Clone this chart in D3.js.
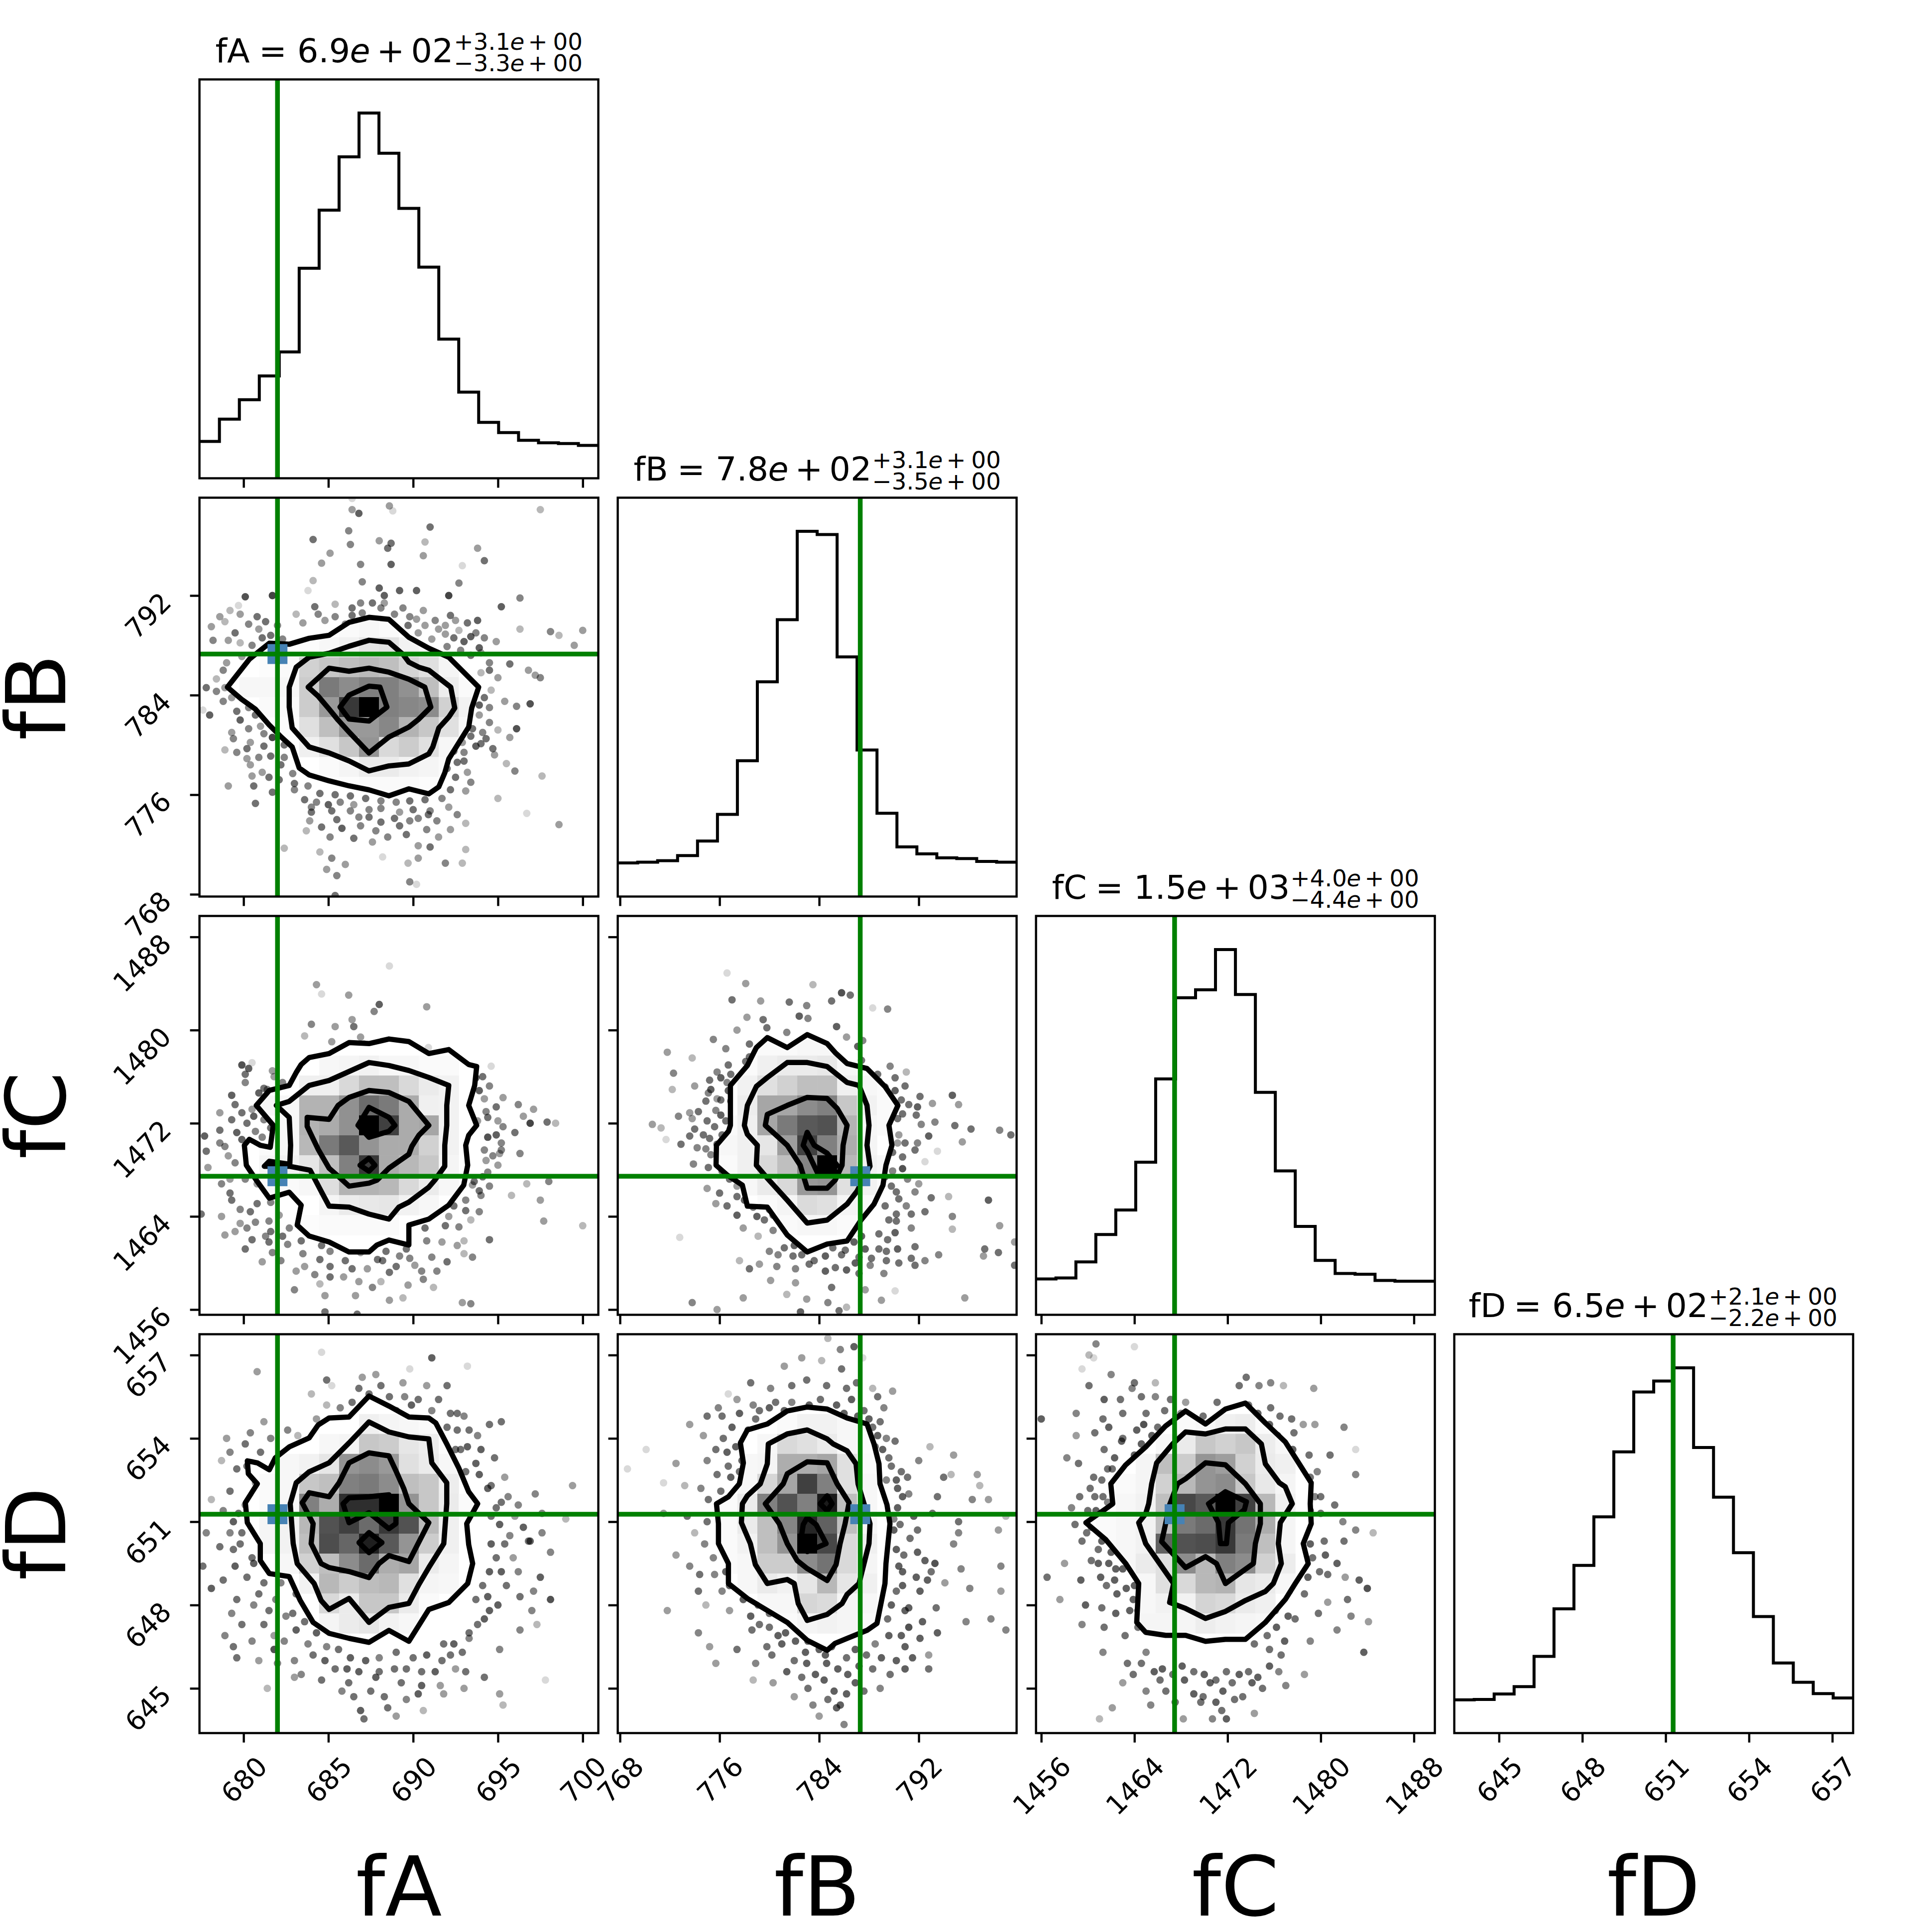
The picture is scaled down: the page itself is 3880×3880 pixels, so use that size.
<!DOCTYPE html>
<html>
<head>
<meta charset="utf-8">
<script src="https://cdn.jsdelivr.net/npm/d3@7"></script>
<style>
  body { margin: 0; background: #fff; }
  text { font-family: "DejaVu Sans", sans-serif; fill: #000; }
</style>
</head>
<body>
<svg id="chart" width="3880" height="3880"></svg>
<script>
// parameter names, axis limits, tick values, true values
const params = ['fA', 'fB', 'fC', 'fD'];
const limits = [[677.4, 700.92], [767.82, 799.86], [1455.55, 1489.8], [643.39, 657.75]];
const ticks = [[680, 685, 690, 695, 700], [768, 776, 784, 792], [1456, 1464, 1472, 1480, 1488], [645, 648, 651, 654, 657]];
const truths = [682, 787.3, 1467.45, 651.27];

// title numbers
const medians = ['6.9', '7.8', '1.5', '6.5'];
const exponents = ['02', '02', '03', '02'];
const plusErr = ['3.1', '3.1', '4.0', '2.1'];
const minusErr = ['3.3', '3.5', '4.4', '2.2'];

// 1d histograms, 20 bins, peak scaled to 1000
const histA = [101, 162, 215, 280, 346, 575, 734, 880, 1000, 890, 739, 578, 381, 236, 153, 125, 104, 97, 95, 90];
const histB = [92, 94, 98, 112, 152, 225, 372, 588, 758, 1000, 991, 656, 401, 228, 136, 117, 106, 104, 96, 94];
const histC = [98, 101, 145, 220, 287, 418, 646, 868, 890, 1000, 877, 609, 394, 242, 149, 113, 111, 94, 92, 92];
const histD = [91, 92, 107, 127, 210, 340, 459, 592, 770, 934, 964, 1000, 782, 646, 494, 319, 192, 139, 108, 96];

// 2d density, darkness 0-100. each row: [row from top, first column, values...]
const densAB = [
  [6, 7, 2, 3, 2],
  [7, 5, 1, 3, 5, 10, 11, 5, 3, 2],
  [8, 3, 1, 2, 18, 22, 25, 27, 25, 17, 12, 4],
  [9, 2, 3, 3, 3, 20, 52, 45, 50, 50, 43, 25, 7, 2],
  [10, 3, 2, 2, 20, 40, 78, 100, 50, 47, 45, 18, 5],
  [11, 4, 1, 12, 25, 40, 40, 47, 30, 22, 12, 3],
  [12, 5, 6, 12, 22, 42, 15, 20, 12, 3],
  [13, 6, 2, 4, 8, 8, 5, 4, 2],
  [14, 6, 1, 1, 2, 2, 2, 1, 1]
];
const densAC = [
  [7, 6, 3, 4, 5, 3, 3, 2, 2],
  [8, 5, 6, 6, 15, 25, 25, 15, 8, 5],
  [9, 3, 3, 3, 30, 30, 43, 58, 52, 33, 6, 5],
  [10, 4, 3, 30, 33, 43, 100, 75, 33, 35, 5],
  [11, 3, 2, 3, 28, 52, 65, 42, 33, 33, 18, 5],
  [12, 3, 4, 5, 10, 25, 50, 78, 33, 28, 22, 4],
  [13, 3, 2, 2, 3, 13, 30, 30, 28, 15, 8, 3],
  [14, 6, 4, 8, 9, 10, 5, 3],
  [15, 5, 1, 2, 2, 2, 2]
];
const densAD = [
  [4, 8, 6, 4, 3, 2],
  [5, 6, 3, 4, 22, 20, 10, 7, 1],
  [6, 4, 3, 5, 10, 42, 45, 40, 12, 8, 3],
  [7, 3, 2, 3, 22, 25, 50, 52, 45, 25, 22, 7],
  [8, 3, 2, 3, 50, 32, 82, 82, 100, 42, 22, 8, 2],
  [9, 3, 4, 5, 28, 68, 75, 58, 78, 68, 27, 6],
  [10, 3, 4, 5, 25, 70, 60, 88, 65, 42, 20, 6],
  [11, 4, 3, 18, 25, 45, 58, 32, 35, 8, 4],
  [12, 5, 5, 28, 20, 26, 28, 12, 4, 3],
  [13, 6, 15, 8, 22, 22, 8, 2],
  [14, 6, 4, 8, 10, 5, 3]
];
const densBC = [
  [6, 7, 2, 2, 3, 3],
  [7, 6, 2, 6, 8, 8, 9, 3, 1],
  [8, 6, 5, 12, 18, 25, 25, 6, 3, 2],
  [9, 6, 7, 35, 35, 45, 50, 22, 5, 2],
  [10, 5, 2, 6, 35, 52, 65, 68, 30, 3, 2],
  [11, 5, 3, 6, 10, 38, 75, 50, 32, 4],
  [12, 5, 2, 6, 15, 25, 48, 100, 28, 5, 3],
  [13, 5, 1, 3, 8, 15, 40, 42, 12, 5, 2],
  [14, 7, 2, 4, 14, 12, 4, 2],
  [15, 8, 2, 3, 3, 2]
];
const densBD = [
  [4, 8, 2, 5, 5, 3],
  [5, 7, 3, 15, 12, 8, 3, 1],
  [6, 6, 3, 4, 32, 32, 35, 12, 2],
  [7, 6, 3, 16, 35, 75, 50, 12, 3],
  [8, 5, 2, 8, 50, 68, 50, 90, 25, 3],
  [9, 5, 2, 8, 25, 48, 85, 62, 25, 3],
  [10, 5, 2, 5, 25, 42, 100, 72, 15, 6],
  [11, 5, 2, 3, 20, 20, 45, 55, 15, 4],
  [12, 6, 3, 8, 5, 10, 28, 10, 6],
  [13, 7, 3, 3, 16, 14, 4, 3],
  [14, 8, 2, 4, 5, 4, 2]
];
const densCD = [
  [4, 7, 2, 3, 6, 7, 2],
  [5, 6, 3, 8, 22, 18, 22, 7, 3],
  [6, 5, 4, 25, 20, 42, 38, 18, 8, 6],
  [7, 4, 2, 4, 18, 28, 42, 45, 22, 9, 4],
  [8, 4, 3, 5, 25, 72, 65, 100, 75, 28, 6],
  [9, 3, 2, 3, 5, 25, 52, 58, 78, 55, 32, 4],
  [10, 3, 2, 3, 5, 62, 68, 70, 78, 52, 25, 4],
  [11, 4, 3, 8, 12, 45, 28, 50, 45, 18, 7],
  [12, 5, 3, 12, 15, 28, 30, 10, 8, 3],
  [13, 5, 3, 5, 5, 17, 15, 8, 6],
  [14, 5, 4, 4, 4, 7, 5, 4, 3]
];

// contour vertices in histogram bin coordinates [column, row from top]
const contoursAB = [
  [[1.4,9.5],[2.5,8.1],[3.5,7.3],[4.5,7.35],[5.5,7.05],[6.5,6.9],[7.5,6.25],[8.5,6],[9.5,6.1],[10.5,7],[11.5,7.55],[12.5,8],[14,9.5],[13.65,10.55],[13.5,11.5],[13,12.3],[12.5,13.1],[12.3,13.8],[12,14.5],[11.5,14.85],[10.5,14.6],[9.5,14.95],[8.5,14.65],[7.5,14.45],[6.5,14.2],[5.5,13.9],[5,13.55],[4.65,12.5],[4.1,12],[3.5,11.4],[2.8,10.6],[2.1,10.1]],
  [[4.5,9.5],[4.85,8.5],[5.5,8],[6.5,7.8],[7.5,7.45],[8.5,7.15],[9.5,7.25],[10.2,7.85],[10.5,8.25],[11,8.5],[11.5,8.65],[12.6,9.5],[12.8,10.55],[12.5,11],[12,11.55],[11.7,12.5],[11.5,12.85],[10.5,13.35],[9.5,13.45],[8.5,13.7],[7.5,13.2],[6.5,12.8],[5.5,12.5],[4.65,11.55],[4.5,10.5]],
  [[5.45,9.5],[6.5,8.55],[7.5,8.7],[8.5,8.55],[9.5,8.75],[10.5,9.1],[11.3,9.5],[11.6,10.5],[11,11.1],[10.5,11.5],[9.5,12],[8.5,12.8],[7.5,11.75],[6.95,11.15],[6.5,10.6],[5.95,9.95]],
  [[7.05,10.5],[7.5,9.9],[8.5,9.45],[9.05,9.5],[9.4,10.5],[8.5,11.2],[7.5,11.1]]
];
const contoursAC = [
  [[2.85,9.5],[3.5,8.75],[4.5,8.5],[4.85,7.85],[5.1,7.45],[5.5,7.1],[6.5,6.9],[7.5,6.35],[8.5,6.4],[9.5,6.17],[10.5,6.3],[11.5,6.9],[12.5,6.7],[13.5,7.45],[13.9,7.55],[13.8,8.5],[13.5,9.5],[13.9,10.5],[13.5,11],[13.35,11.5],[13.45,12.5],[13.25,13.5],[12.5,14.5],[11.5,15.2],[10.5,15.5],[10.5,16.5],[9.5,16.25],[8.9,16.5],[8.5,16.85],[7.5,16.85],[6.5,16.35],[5.5,16.05],[4.9,15.5],[5.1,14.5],[4.5,13.85],[3.5,14.15],[2.85,13.25],[2.35,12.5],[2.25,11.5],[2.5,11.2],[3.05,11.5],[3.55,11.6],[3.7,10.5]],
  [[3.85,9.5],[4.5,9.3],[5.5,8.5],[6.5,8.25],[7.5,7.8],[8.5,7.35],[9.5,7.5],[10.5,7.75],[11.5,8.1],[12.5,8.5],[12.4,9.5],[12.4,10.5],[12.3,11.5],[12.3,12.55],[11.8,13.25],[11.5,13.6],[10.5,14.35],[10,14.6],[9.5,15.2],[8.5,14.95],[7.5,14.6],[6.5,14.55],[6.1,13.8],[5.55,12.75],[4.5,12.55],[3.25,12.55],[3.5,12.3],[4.53,12.45],[4.57,11.5],[4.5,10.1]],
  [[5.4,10.1],[6.5,10.2],[6.95,9.5],[7.5,9.1],[8.5,8.75],[9.5,8.85],[10.5,9.3],[11.5,10.5],[11,11],[10.65,11.55],[10.5,11.95],[9.5,12.65],[8.9,13.25],[8.5,13.4],[7.5,13.55],[6.9,13],[6.5,12.65],[5.95,11.7],[5.4,10.55]],
  [[8.5,9.6],[9.5,10.1],[9.8,10.5],[9.5,10.8],[8.5,11.1],[7.95,10.5]],
  [[8.5,12.15],[8.8,12.5],[8.5,12.8],[8.05,12.5]]
];
const contoursAD = [
  [[2.4,6.35],[2.9,6.45],[3.5,6.8],[3.8,6.2],[4.5,5.65],[5.5,5.2],[5.95,4.55],[6.5,4.2],[7.5,4.15],[8.5,3.1],[9.5,3.6],[10.5,4.15],[11.5,4.2],[11.85,4.45],[12.4,5.5],[13,6.7],[13.5,7.9],[13.95,8.5],[13.4,9.5],[13.5,10.55],[13.7,11.5],[13.45,12.5],[12.5,13.45],[11.5,13.8],[10.5,15.4],[9.5,14.85],[8.5,15.45],[7.5,15.25],[6.5,15],[5.7,14.45],[5.05,13.35],[4.5,12.15],[3.5,12],[3.05,11.35],[3.05,10.5],[2.4,9.45],[2.3,8.45],[2.9,7.5],[2.45,7]],
  [[4.85,7.45],[5.5,6.9],[6.5,6.45],[7.5,5.45],[8.5,4.4],[9.5,4.9],[10.5,5.15],[11.5,5.25],[11.65,6.45],[12.4,7.45],[12.4,8.5],[12.25,10.5],[11.5,11.7],[11,12.55],[10.5,13.5],[9.5,13.7],[8.5,14.45],[7.5,13.25],[6.5,13.8],[6.1,13.35],[5.75,12.5],[4.9,11.5],[4.7,10.5],[4.55,8.5]],
  [[5.15,8.45],[5.5,7.95],[6.5,8.15],[7,7.45],[7.5,6.45],[8.5,5.95],[9.5,6.1],[9.85,6.85],[10.25,7.75],[10.5,8.5],[11.5,9.45],[10.5,11.4],[9.5,11.1],[9,11.5],[8.5,12.2],[7.5,11.9],[6.5,11.7],[6.1,11.5],[5.6,10.5],[5.7,9.5]],
  [[7.2,8.5],[7.5,8.2],[8.5,8.15],[9.5,8.05],[9.85,8.85],[9.85,9.5],[9.5,9.75],[8.5,8.95],[7.5,9.45]],
  [[8.5,9.95],[9.15,10.45],[8.5,10.95],[8,10.45]]
];
const contoursBC = [
  [[4.93,12.5],[4.95,11.5],[5.55,10.8],[5.65,10.5],[5.65,9.5],[5.65,8.5],[6.5,7.5],[6.95,6.6],[7.5,6.1],[8.5,6.6],[9.5,5.95],[10.5,6.4],[10.9,6.85],[11.5,7.4],[12.5,7.65],[13.4,8.55],[14.05,9.5],[13.6,10.5],[13.75,11.5],[13.45,12.5],[13.3,13.5],[12.85,14.45],[12.2,15.25],[11.5,16.3],[10.5,16.45],[9.5,16.85],[8.5,16],[7.5,14.6],[6.5,14.55],[6.25,13.5],[5.5,13]],
  [[6.95,8.55],[7.5,8.1],[8.5,7.35],[9.5,7.35],[10.5,7.55],[11.5,8.35],[12.1,8.5],[12.5,9.5],[12.6,10.5],[12.5,11.5],[12.65,12.55],[12,13.8],[11.5,14.45],[10.5,15.25],[9.5,15.4],[8.5,14.25],[7.5,13.15],[6.95,12.5],[7,11.5],[6.5,10.95],[6.35,10.5],[6.5,9.5]],
  [[7.5,9.95],[8.5,9.5],[9.5,9.1],[10.5,9.15],[11,9.65],[11.5,10.5],[11.3,11.5],[11.25,12.5],[10.9,13.25],[10.5,13.65],[9.5,13.65],[9.15,12.5],[8.5,11.5],[7.4,10.5]],
  [[9.5,10.85],[9.85,11.5],[10.5,11.9],[11,12.5],[10.5,12.95],[10.05,12.95],[9.5,11.8],[9.3,11.5]]
];
const contoursBD = [
  [[4.95,8.5],[5.55,8.15],[6.1,7.5],[6.3,6.45],[6.15,5.45],[6.5,4.8],[7.5,4.5],[8.5,3.85],[9.5,3.65],[10.5,3.75],[11.5,4.2],[12.5,4.5],[12.85,5.5],[13.1,6.5],[13.15,7.5],[13.5,8.55],[13.65,9.5],[13.45,11.5],[13.4,12.5],[13,14.5],[12.5,14.85],[11.5,15.25],[10.9,15.5],[10.5,15.85],[9.5,15.35],[8.5,14.45],[7.5,13.85],[6.5,13.25],[5.55,12.5],[5.55,11.5],[5.05,10.5],[5.05,9.5]],
  [[6.25,8.5],[6.5,8.1],[7.15,7.5],[7.5,6.5],[7.55,5.5],[8.5,5],[9.5,4.8],[10.5,5.25],[10.8,5.5],[11.5,5.85],[11.95,6.5],[12.05,7.5],[12.65,9.5],[12.6,10.5],[12.1,12.5],[11.5,13.05],[11.25,13.5],[10.5,14.05],[9.5,14.35],[9.05,13.5],[8.85,12.5],[8.5,12.3],[7.5,12.5],[6.9,11.55],[6.65,10.5],[6.2,9.45]],
  [[7.4,8.5],[8.3,7.5],[8.5,7],[9.5,6.4],[10.5,6.45],[11,7.5],[11.6,8.45],[11.4,9.5],[11.15,10.5],[10.95,11.55],[10.5,12.35],[9.5,11.75],[9,11.35],[8.5,10.5],[8.1,9.5]],
  [[10.5,8.1],[10.75,8.5],[10.5,8.85],[10.15,8.5]],
  [[9.5,9.2],[9.95,9.55],[10.45,10.5],[9.5,10.9],[9.15,10.55],[9.3,9.55]]
];
const contoursCD = [
  [[2.5,9.45],[3.5,8.75],[3.85,8.5],[3.75,7.5],[4.5,6.55],[5.5,5.65],[6.5,4.6],[7.5,3.85],[8.5,4.5],[9.5,3.75],[10.5,3.45],[11.5,4.45],[12.5,5.4],[13.2,6.5],[13.8,7.45],[13.75,8.5],[13.8,9.5],[13.4,10.5],[13.65,11.5],[13,12.5],[12.5,13.3],[11.5,14.45],[10.5,15.3],[9.5,15.3],[8.5,15.4],[7.5,15.1],[6.5,15.1],[5.5,14.95],[5.05,14.45],[5.15,12.5],[4.5,11.5],[3.5,10.3]],
  [[5.15,9.45],[5.5,9],[5.65,8.5],[5.8,7.5],[6.05,6.45],[6.85,5.5],[7.5,4.9],[8.5,5],[9.5,4.75],[10.5,4.75],[11.3,5.5],[11.5,6.5],[12.2,7.45],[12.5,7.65],[12.85,8.5],[12.25,9.45],[12.15,10.5],[12.3,11.5],[11.9,12.5],[11.5,12.9],[10.5,13.35],[9.5,13.9],[8.5,14.25],[7.5,13.75],[6.7,13.45],[6.9,12.5],[5.5,10.5]],
  [[6.3,10.4],[6.5,9.5],[6.7,8.55],[7.1,7.5],[7.5,7.25],[8.5,6.45],[9.5,6.55],[10.5,7.5],[11.25,8.5],[11.25,9.5],[11,10.5],[10.9,11.5],[9.5,12.5],[9.05,11.5],[8.5,11.15],[7.5,11.7]],
  [[8.65,8.5],[9.5,7.9],[10.55,8.4],[10.45,8.8],[9.65,9.45],[9.55,10.5],[9.25,10.5],[9.15,9.45]]
];

// samples outside the contours: [x, y, overlapping dots]
const pointsAB = [[686.4,799.8,1],[688.6,799.2,3],[688.8,798.8,1],[686.4,798.9,3],[686.8,798.6,6],[697.5,798.9,2],[691,797.5,5],[686.2,797.2,4],[684.1,796.5,5],[686.3,796.1,4],[688.7,796.2,5],[690.7,796.3,2],[688,796.4,3],[688.5,795.8,5],[685.1,795.4,3],[684.6,794.6,3],[688.7,794.5,6],[686.9,794.5,4],[690.6,795.2,3],[694.2,794.8,5],[693.8,795.8,3],[692.9,794.4,1],[687,793.1,4],[688,792.6,6],[688.3,792,6],[689.2,792.4,6],[690.2,792.4,6],[692.1,792,8],[692.7,793,4],[695.2,791.1,6],[696.3,791.8,4],[684.1,793.2,2],[683.8,792.4,1],[681.7,792,8],[680.1,791.9,7],[679.7,791.2,1],[685.4,791.3,2],[684.2,791.1,5],[686.4,791,5],[687,790.6,4],[688.1,791,4],[688.9,790.5,4],[690.2,790.1,3],[692.2,790.4,5],[693.8,790,6],[694.9,788.3,3],[696.3,789.3,2],[698.1,789.1,4],[700,789.2,3],[698.6,788.8,2],[699.5,788,3],[680.8,790.3,5],[678.9,789.9,2],[679.5,789,5],[678.1,789.5,3],[678.2,788.4,4],[681.6,788.8,5],[682.3,788.5,4],[683.5,789.8,3],[684.8,790,3],[686,789.7,4],[690.3,789,3],[691.5,789.3,3],[691.1,788.5,3],[692.7,789.2,2],[693.7,789,4],[693,788.3,6],[693.9,787.8,6],[692,787.9,4],[680.5,788,4],[679.9,787.1,3],[694.5,786.6,4],[695.7,786.5,5],[696.8,786,3],[697.2,785.6,3],[694,785.8,2],[694.6,784.4,2],[695.4,783.5,3],[696.1,783.1,4],[696.9,783.3,7],[697.5,785.4,4],[677.8,784.6,5],[678.4,784.3,4],[678.8,783.5,4],[677.6,782.8,1],[678,782.4,6],[679.6,782.7,5],[680.7,782.4,5],[681,781.5,3],[679.3,781,3],[679.4,780.5,4],[680.4,780.2,3],[681.7,780.6,8],[693.9,782.4,3],[694.5,781.8,4],[695,781.2,2],[695.7,780.6,3],[696.1,781.3,7],[694,780.1,5],[694.7,779.7,5],[693,779.4,4],[692.6,778.6,5],[693.2,777.8,3],[694.8,779.2,3],[695.5,778.5,2],[696,777.9,4],[697.6,777.5,2],[680.2,778.9,3],[680.4,778.4,3],[681.1,777.8,3],[682.2,778.4,5],[682.9,777.7,4],[679.1,776.7,3],[680.6,776.7,5],[681.7,776.2,5],[683,776.4,4],[680.7,775.3,5],[683.6,775.6,5],[684.3,775.4,4],[685,775.2,6],[685.7,775.4,4],[686.5,775.2,3],[687.4,774.8,4],[688.1,774.9,4],[689.2,774.6,3],[690,774.8,5],[691,774.7,4],[692.1,775,3],[684,774.6,5],[685.5,774,5],[686.8,774.2,4],[688.1,773.8,5],[689.2,773.5,5],[690.3,774.1,4],[691.4,773.9,4],[692.2,773.2,3],[693.1,773.7,2],[683.7,773.1,2],[685.1,772.6,4],[686.5,772.5,5],[687.6,772.2,3],[688.5,772.6,4],[690.3,771.9,3],[691,771.8,5],[693.1,771.6,2],[684.5,771.4,2],[685.2,770.9,4],[686,770.4,3],[688.2,771,1],[689.7,770.5,2],[690.3,770.9,3],[691.9,770.5,4],[692.9,770.5,2],[684.9,770,3],[685.5,769.5,4],[689.8,769,4],[690.2,768.8,1],[685.4,767.9,5],[695,775.7,2],[696.7,774.5,1],[698.6,773.6,3],[682.4,771.7,2]];
const moreAB = [[678.6,790.3,3],[679.2,790.8,2],[679.8,790.5,3],[680.3,789.7,4],[680.9,789.3,3],[681.3,789.9,5],[682,789.6,4],[681.1,788.6,5],[679.1,788.4,3],[679.8,788.2,2],[683.1,790.5,2],[684.4,790.5,4],[685.4,790.3,4],[686.4,790.4,5],[686.9,791.4,4],[687.6,791.4,5],[688.3,791.4,3],[689.4,791,4],[689.8,790.3,4],[690.6,790.8,3],[691.3,790,4],[691.9,789.6,3],[692.5,790,3],[693.2,789.8,5],[689.7,789.6,5],[690.7,789.6,3],[691.9,788.9,3],[692.4,788.6,5],[693.4,788.7,6],[694.2,788.6,4],[692.8,787.6,4],[693.4,787.2,5],[694,787.4,3],[694.5,786,5],[695,785.4,3],[694.2,783.8,5],[694.5,783,4],[693.9,783.2,6],[693.5,781.3,5],[694.1,781,4],[693.4,780.7,5],[693.7,779.9,6],[694.3,780.5,5],[692.9,780.2,3],[692.4,779.5,5],[693,778.7,5],[692,778.1,5],[692.5,777.4,5],[693.4,777,4],[692.2,776.4,5],[693.1,776.3,3],[691.7,775.7,4],[690.7,775.6,5],[689.8,775.5,5],[689,775.4,4],[688.1,775.5,4],[687.2,775.7,5],[686.3,775.9,5],[685.4,776,5],[684.5,776.1,5],[683.8,776.7,4],[683,776.9,5],[682.1,777.2,5],[681.5,777.4,5],[680.5,777.5,3],[680.9,779,4],[681.6,779.1,5],[682.4,779,4],[680.2,779.7,5],[681.2,779.9,5],[682.4,780,5],[679.6,779.4,4],[678.9,779.6,2],[680.3,781.3,4],[681.2,780.9,4],[679.8,782,6],[680.3,783,4],[679.3,783.8,3],[678.9,784.6,3],[678.4,785.3,2],[678.8,786,4],[679,786.6,3],[684,775,4],[685.2,774.7,5],[686.3,774.7,4],[687.4,774.2,5],[688.9,774.1,5],[689.8,773.9,4],[690.9,774.4,5],[692.6,774.4,4],[683.9,773.9,3],[684.6,773.4,5],[685.8,773.3,6],[686.9,773.5,4],[687.8,773.1,4],[689.6,772.8,5],[690.8,773.2,4],[691.5,772.6,3]];
const pointsAC = [[688.6,1485.5,1],[684.3,1483.9,3],[684.6,1483.1,1],[686.2,1483,3],[688,1482.2,6],[687.7,1481.6,4],[690.8,1482,3],[686.4,1480.9,3],[685.4,1480.3,3],[686.5,1480.3,5],[684,1480.5,4],[683.6,1479.5,2],[685.2,1479,3],[686.9,1479.4,3],[687.1,1478.8,4],[688.5,1479,3],[690.9,1478.5,1],[691.6,1477.9,2],[689,1477.6,6],[691.5,1477.1,6],[680.5,1477.2,1],[681.7,1476.5,3],[681.8,1476,3],[685.5,1477.2,2],[686.6,1476.9,3],[688.6,1476.5,5],[690.6,1476.9,3],[692,1476,3],[694.6,1476.9,1],[683.7,1476.6,2],[684.2,1476.2,4],[685,1476,4],[680.1,1475.5,4],[682.3,1475.5,4],[693.4,1475.5,4],[693.9,1474.8,6],[692.2,1474.9,5],[679.3,1474.4,6],[679.5,1473.6,5],[680.5,1473.2,3],[681.9,1474.2,3],[695.3,1474.2,3],[696.2,1473.6,4],[697.1,1473.2,3],[694.3,1473,4],[693.8,1472.2,3],[695,1472.2,3],[696.5,1472.6,3],[698.4,1472,2],[679.3,1472.3,5],[680.2,1472,5],[681.2,1472.3,4],[678.6,1471.4,5],[679.6,1471.2,6],[696.9,1472,8],[697.9,1472.1,5],[694.4,1470.8,7],[695.2,1470.3,4],[696,1471.2,5],[677.7,1470.9,6],[678.6,1470.3,4],[679.9,1470.6,6],[677.8,1469.6,5],[695.1,1469.4,3],[696.3,1469.4,4],[694.2,1469.7,4],[694.3,1468.8,3],[677.9,1468.2,3],[679.5,1468.6,4],[681.4,1468.2,3],[695,1468.4,3],[694.4,1467.8,4],[696.7,1466.8,2],[698,1467,4],[692,1467,2],[678.7,1466.8,4],[679.2,1466,5],[680.8,1466.8,3],[693.5,1466.7,3],[694,1465.8,4],[695.8,1465.8,2],[697.5,1465.4,3],[679.3,1465.4,5],[679.8,1464.6,4],[677.5,1464.2,5],[678.7,1464,3],[680.4,1464.4,5],[681.5,1463.6,4],[682.1,1464.1,3],[692.1,1464,3],[693.4,1463.7,2],[693.9,1464.4,4],[697.7,1463.6,3],[700,1463.2,2],[680.2,1463,4],[681.6,1462.7,5],[682.7,1463,4],[690.8,1461.9,4],[691.7,1461.8,3],[693,1461.9,2],[694.5,1462,5],[681.5,1461.8,5],[680.1,1461.2,5],[681.7,1460.9,4],[683.5,1460.8,4],[685.1,1461,4],[686.9,1460.9,3],[689.2,1460.6,4],[691.1,1460.5,4],[692.6,1461.5,3],[693,1460.8,2],[684.5,1460.3,5],[686,1460.2,5],[688.2,1460.2,5],[689.8,1460.4,4],[683.6,1459.7,3],[685.1,1459.7,5],[687.3,1459.5,3],[688.6,1459.2,5],[690.1,1459.8,3],[691.4,1459.3,4],[685.9,1458.8,3],[686.8,1458.4,3],[688.1,1458.4,2],[689.7,1458.1,3],[684.5,1458.2,2],[691.2,1457.9,2],[683,1457.7,4],[686.6,1457.2,3],[688.6,1456.8,3],[689.4,1457,2],[692.9,1456.6,3],[693.4,1456.5,4],[684.8,1455.8,5],[686.7,1455.6,5]];
const moreAC = [[679.9,1477,7],[680.3,1476.7,6],[680.1,1476.2,5],[681.2,1475,5],[680.9,1474.6,6],[681.4,1474.9,4],[683,1475.8,5],[683.8,1475.2,5],[684.4,1475.5,4],[685.7,1475.8,5],[687,1476,5],[688.1,1476,5],[689,1475.8,5],[690.3,1476,5],[691.2,1475.5,5],[692.7,1476.3,5],[693.2,1476.8,3],[694.1,1476,5],[693.7,1475.9,6],[694.5,1475.2,4],[682,1473.6,5],[683,1474.6,5],[683.6,1474.4,4],[679.9,1472.9,5],[680.6,1472.6,6],[681.6,1473,4],[678.6,1472.9,3],[681.6,1471.6,5],[680.7,1471.3,4],[681.1,1470.8,4],[678.9,1470,4],[680.5,1470,5],[679.1,1469.2,3],[694.2,1474.1,3],[694.9,1473.4,5],[694.4,1472.5,5],[695.3,1471.7,4],[694.9,1471,6],[695.2,1469.7,4],[694.7,1469.2,4],[694.1,1467.4,5],[693.6,1467,5],[694.5,1466.6,4],[693.9,1466.2,5],[693.1,1465.4,4],[692.4,1464.9,5],[693.1,1464.5,5],[691.9,1463.2,5],[692.7,1463.1,4],[690.7,1463,5],[689.6,1461.2,5],[688.4,1461,5],[687.4,1461.2,4],[686.2,1461.2,5],[684.6,1461.5,5],[683.4,1461.9,5],[682.6,1461.6,4],[682.3,1462.3,5],[681.3,1462.3,4],[680.5,1462,5],[680.7,1463.5,4],[679.8,1463.4,3],[682.2,1460.2,4],[683.1,1459.3,3],[684.2,1459,4],[685.1,1458.8,5],[686.4,1459.5,5],[687.9,1460.3,5],[689,1459.7,5],[690.5,1459.3,4],[692,1460.1,5],[693.5,1460.5,4],[680.8,1465.1,5],[681.6,1465.2,4],[679.2,1467.2,3],[680.1,1467.2,4],[678.9,1462.4,3],[679.5,1462.7,3],[681.1,1460.1,3],[684.8,1457.2,3],[687.6,1457.9,4],[690.6,1458.6,4]];
const pointsAD = [[680.8,656.4,3],[684.6,657.1,1],[685.2,655.9,1],[684.9,656.1,5],[687.8,656.3,3],[689.8,656.5,1],[691.1,656.9,6],[693.2,656.6,1],[687,656.2,3],[688.1,655.9,5],[689.4,656,3],[690.8,655.9,3],[692,655.9,5],[684,655.6,2],[684.9,655.2,2],[686.4,655.3,5],[688,655.1,6],[689,655,5],[689.9,655.2,6],[691.1,655,4],[692.6,654.9,5],[695.2,654.6,5],[686,654.2,5],[687.8,654.6,5],[689.2,654.3,4],[690.5,654.5,5],[692,654.4,5],[693,654.8,4],[681.2,654.6,3],[682.6,654.3,4],[683.2,654.1,2],[684.3,654.7,3],[685.2,654.5,5],[687,654.4,6],[693.8,654.1,4],[694.5,654.5,5],[679,654,3],[680.1,653.8,5],[681,653.5,5],[682,653.3,4],[683.1,653.4,5],[683.7,652.9,5],[692.8,653.6,5],[693.7,653.1,6],[694.8,653.3,5],[695.4,652.6,3],[678.7,653.2,2],[679.6,652.9,5],[680.7,652.4,3],[681.5,652.4,5],[694.4,652.2,6],[695.6,651.9,4],[697.2,652,4],[699.4,652.3,3],[679.2,652.1,5],[680.1,651.6,4],[694.9,651.5,5],[696.2,651.6,4],[697.6,651.3,4],[699,651.1,2],[678.8,651.4,4],[679.4,651,6],[695.1,650.9,6],[696.5,650.8,6],[678.6,650.1,5],[679.8,650.2,5],[680.5,649.7,5],[695.4,650.2,5],[696.9,650.3,6],[698.1,649.9,4],[679.5,649.4,6],[677.6,649.4,5],[678.8,648.9,5],[680.2,649,5],[681.2,648.8,5],[695.2,649.2,6],[696.2,649.2,4],[697.5,649,6],[678.1,648.6,6],[679.6,648.2,5],[680.6,648,4],[681.9,648.2,4],[682.5,647.6,4],[694.4,648.3,6],[695,648,6],[696.3,648.3,5],[698.1,648.2,7],[679.3,647.7,4],[679.9,647.3,5],[681.2,647.3,5],[683.1,647.1,6],[694.2,647.5,6],[696.3,647.1,4],[697.3,647.3,2],[678.9,646.9,4],[679.4,646.5,5],[681.8,646.4,7],[683.8,646.6,4],[693.3,646.8,4],[692.4,646.6,6],[695.1,646.4,4],[679.6,646.1,5],[683,646,4],[684.8,646,6],[686.1,645.7,6],[688,645.6,5],[689.6,645.7,5],[691.7,646,5],[692.5,645.7,3],[683.4,645.5,4],[684.6,645.3,5],[686.2,645.2,5],[687.8,645.4,6],[689.3,645.2,5],[690.5,645.1,6],[691.6,645.1,3],[694.2,645.4,5],[681.4,645,2],[686.5,644.7,5],[688.3,644.7,5],[690.3,644.8,6],[695.1,644.8,3],[686.9,644.2,6],[688.5,644.3,5],[690.6,644.2,2],[695.3,644.4,2],[687.1,643.9,5],[689,644,3],[697.8,645.3,1]];
const moreAD = [[686.8,655.8,5],[687.4,655.6,5],[688.6,655.5,5],[689.5,655.5,4],[690.3,655.4,5],[691.5,655.4,5],[692.2,654.9,5],[685.7,655.1,4],[686.5,654.7,5],[688.2,654.9,3],[691.3,654.4,5],[692.6,654.3,5],[693.3,654.3,5],[684.8,654,5],[685.5,654.1,5],[686.4,654.2,4],[692.5,653.6,5],[693.2,653.7,6],[694,653.6,6],[683.6,653.8,4],[684.3,653.6,5],[685,653.7,6],[693.1,652.8,5],[693.9,652.7,6],[694.6,652.3,5],[680.2,653,5],[681.2,652.9,5],[682.2,652.7,5],[679.2,653.5,4],[680.4,654.2,4],[681.6,654,4],[679.7,651.3,5],[680.6,651,5],[679.2,650.6,4],[679.9,650.6,5],[680.8,650.5,4],[694.6,651.2,5],[695.2,651.7,5],[695.7,650.5,4],[694.6,650.2,6],[695.9,649.7,3],[680.6,649.5,6],[681.4,649.7,4],[679.4,650,5],[694.9,649.7,5],[694.5,649.2,6],[695.5,648.7,5],[680.9,648.4,5],[682.2,648.8,4],[683.1,648.4,5],[694.1,648.7,5],[693.7,648.2,5],[694.5,647.8,6],[693.8,647.3,5],[693.3,647,5],[681.5,647.8,5],[682.9,647.7,5],[683.6,647.4,5],[684.3,647,6],[684.1,646.2,5],[684.9,646.5,4],[685.6,646.4,5],[686.3,646.1,6],[687.2,646,6],[688,646.1,4],[689,646.3,5],[690,646.1,5],[690.8,646.2,6],[691.8,646.6,5],[692.2,646.2,5],[692.9,646.3,5],[685.4,645.7,5],[686.8,645.6,6],[688.9,645.7,5],[690.5,645.6,5],[691.3,645.6,6],[693.1,645.6,5],[681.8,646.9,3],[682.4,646.7,4],[680.5,646.7,4],[680.9,646,3],[682,645.9,4],[683,645.4,3],[685.8,644.9,4],[687.5,644.9,5],[689.6,644.6,4],[691.8,644.8,3],[693,645,3],[696.8,650.3,5],[697.6,650.6,4],[696,651.2,3],[697.1,648.5,4],[697,647.8,4],[678.1,651.8,2],[677.8,650.6,4]];
const pointsBC = [[776.6,1484.9,1],[778.1,1484,3],[783.5,1483.9,2],[785.8,1483.2,7],[786.5,1483,5],[777,1482.6,5],[779.3,1482.5,3],[781.6,1482.4,5],[783,1482.1,4],[785,1482.5,5],[788.3,1481.9,1],[789.5,1481.8,4],[778.2,1481.1,3],[779.5,1480.9,5],[782.4,1481.2,6],[783.1,1481,4],[785.4,1480.3,6],[777.4,1480,3],[779.8,1480.2,5],[781.4,1479.8,4],[783,1479.4,4],[786.2,1479.4,3],[787.5,1479.1,4],[775.5,1479.2,4],[776.5,1478.4,4],[778.4,1478.8,5],[780.3,1478.7,4],[782.6,1478.4,4],[785,1478.2,6],[787.1,1478.6,6],[771.8,1478.1,3],[773.8,1477.6,2],[776.7,1477,5],[778.1,1477.3,5],[780.2,1477.2,5],[781.9,1476.6,5],[786.1,1476.8,4],[787.4,1477.4,5],[789.7,1476.9,4],[791,1476.4,2],[772.3,1476.3,4],[775.2,1475.7,5],[774,1475.2,3],[776.6,1475.5,4],[787.4,1476,5],[788.8,1475.6,5],[790.1,1475.9,5],[772.2,1474.9,2],[775.1,1474.6,4],[778.4,1474.3,5],[792.1,1474.3,5],[794.7,1474.4,6],[775.8,1474.1,3],[789.1,1474.3,5],[790.6,1474,5],[793.1,1473.7,3],[775.7,1473.1,4],[777.1,1473.4,5],[789.7,1473,5],[790.3,1472.4,5],[795.2,1473.6,3],[791.8,1472.7,5],[772.7,1472.6,4],[773.8,1472.4,3],[775,1472.2,5],[776.5,1472.2,5],[793.3,1472.1,4],[794.9,1471.8,5],[796.2,1471.5,5],[798.5,1471.4,4],[799.4,1471,5],[770.6,1471.9,3],[771.3,1471.6,2],[773.6,1470.9,5],[775.2,1470.7,5],[776.5,1470.8,3],[790.4,1471,3],[792.8,1470.9,6],[795.5,1470.4,3],[771.7,1470.6,1],[772.9,1470.2,5],[774.2,1469.9,4],[775.3,1469.3,4],[777,1468.7,3],[789.9,1469.5,5],[790.7,1469.1,5],[791.9,1470.3,4],[793.5,1469.6,1],[773.9,1468.5,4],[775.1,1468.2,5],[776.2,1467.9,5],[789.3,1468.6,6],[790.7,1468.1,7],[792.5,1468.7,1],[776.8,1467.2,5],[778,1467,5],[787.5,1466.7,3],[789.8,1466.6,5],[792,1466.8,3],[777.4,1466.6,3],[778.6,1465.7,5],[790.4,1465.5,5],[793,1465.6,5],[794.4,1465.7,2],[797.6,1465.4,6],[776.6,1464.9,5],[778.7,1464.8,5],[780,1464.6,5],[791,1464.9,4],[792.5,1464.4,5],[794.7,1464,4],[798.5,1463.2,3],[777.4,1464.1,6],[779.6,1463.7,5],[781.7,1463.7,6],[790.2,1463.6,5],[791.4,1463,4],[794.7,1462.9,2],[799.7,1461.8,3],[777.9,1463,3],[780.3,1462.8,4],[782.7,1462.3,5],[790.1,1462.6,6],[772.8,1462.2,1],[779.1,1462.3,2],[782,1461.5,6],[784.1,1462,6],[786.8,1461.8,6],[788.8,1461.2,5],[790.3,1461.2,6],[791.7,1461.4,5],[797.3,1461.2,5],[798.4,1460.9,5],[780,1461,4],[781.9,1460.6,5],[783.6,1460.2,5],[785.8,1460.7,5],[787.2,1460.5,5],[789.4,1460.2,5],[791.4,1460.4,5],[793.6,1460.7,4],[797.2,1460.6,3],[799.7,1459.8,5],[777.6,1460.2,2],[778.4,1459.5,5],[780.6,1459.7,4],[783.2,1459.9,5],[784.5,1459.3,6],[786.2,1459.4,6],[788.1,1459.8,4],[791.7,1459.8,5],[780.1,1458.5,3],[782.1,1458.3,3],[785,1457.9,5],[787.7,1457.7,3],[790.1,1457.6,1],[777.9,1457,3],[781.4,1457.3,2],[783,1456.9,3],[784.7,1456.6,4],[786.2,1456.2,2],[789,1456.8,3],[795.7,1457,3],[773.8,1456.6,4],[775.8,1456,3],[782.5,1455.8,6],[785.6,1455.9,5]];
const moreBC = [[778.4,1477.7,5],[779.2,1477.6,6],[779.7,1477,5],[780.8,1477.6,5],[782.4,1477.7,6],[783.2,1477.5,5],[784.3,1477.3,6],[785.1,1477.1,6],[786.8,1476.3,6],[788.1,1475.8,6],[788.7,1476.2,5],[789.3,1475.1,6],[790.1,1474.8,6],[790.9,1475.2,5],[776.9,1476.2,5],[777.6,1476,6],[775.8,1476.4,4],[776.1,1475.9,6],[776.7,1474.8,6],[775.3,1474.9,6],[774.9,1473.9,5],[776.1,1474,5],[776.9,1473.9,5],[791.2,1473.6,5],[791.9,1473.4,6],[790.7,1472.8,5],[792.2,1471.9,4],[776.1,1472.7,6],[774.3,1473,5],[775.6,1471.7,5],[776.2,1471,5],[774.7,1471,5],[775.8,1470.2,6],[774,1471.5,5],[774.9,1469.8,4],[776.3,1469.2,5],[777,1469.8,4],[790.3,1470.3,3],[791.7,1469.7,5],[790.9,1470.3,5],[789.9,1467.9,4],[791.1,1467.2,4],[789.3,1467.4,5],[790.2,1466.1,5],[791.7,1466.1,4],[777.4,1465.7,5],[778,1465.4,6],[779.1,1465.3,5],[780,1465.2,5],[776,1466,5],[789.3,1464.9,5],[790.2,1464.2,5],[791.4,1464.2,5],[789.6,1463.7,5],[779,1464,6],[780.3,1464.1,5],[781.1,1463.8,6],[782.2,1463,5],[783.2,1462.6,6],[784.9,1462.6,6],[786.4,1462.5,6],[787.4,1462.3,6],[788.8,1462.5,5],[789.5,1462,5],[781.2,1461.3,5],[783,1461.3,5],[785.1,1461.3,5],[786.1,1461.1,5],[787.7,1461.2,6],[789.4,1461,5],[782.6,1460.7,5],[784.5,1460.6,6],[786.9,1460,6],[788.2,1460.4,5],[790.4,1460,5],[792.5,1460.2,4],[779.2,1459.9,3],[782.1,1459.5,4],[785.3,1459.6,5],[787.2,1459.1,5],[789.2,1459.1,4],[780.7,1460.7,4],[775,1466.4,3],[775.7,1465.1,3],[773.6,1472.9,3]];
const pointsBD = [[784.7,657.6,2],[785.7,657.2,4],[786.8,657.3,6],[778.5,656,5],[781.2,656.6,3],[782.6,656.9,3],[784.2,656.8,2],[785.8,656.5,5],[787.5,656.9,1],[780.1,655.8,4],[781.8,655.9,5],[783,656.1,5],[784.6,655.9,5],[786.2,655.8,5],[787,656,5],[788.3,655.8,2],[788.7,655.5,5],[776.7,655.6,1],[777.4,655.4,3],[778.7,655.2,4],[780.5,655.3,5],[781.8,655.3,4],[783.2,655.2,6],[784.1,655.4,5],[785.4,655.2,6],[786.6,655.4,6],[787.6,655,5],[789.2,655.1,4],[775,654.8,5],[776.2,654.8,5],[777.6,654.9,6],[778.9,654.7,5],[780.7,654.7,6],[782,654.4,5],[783.4,654.6,5],[784.8,654.4,6],[786.4,654.4,6],[787.4,654.4,5],[788.3,654.4,5],[789.4,654,4],[770.1,653.6,1],[774.7,654.1,3],[776.3,654,5],[778,653.8,5],[779.3,653.9,5],[780.4,653.4,6],[788.5,653.7,5],[789.6,653.3,5],[792,653.2,4],[768.6,652.9,1],[772.5,653.1,3],[775,653.2,4],[776.7,653,5],[777.6,652.8,5],[789.4,652.5,4],[790.6,652.8,5],[794,652.6,5],[794.6,652.7,2],[796.7,652.7,3],[796.9,652.3,2],[771.5,652.4,1],[773.2,652.3,2],[774.5,652.2,4],[776.1,652.1,5],[777.7,652.4,6],[790.3,652.2,6],[791.2,652,4],[793.5,651.9,5],[796.3,651.8,4],[797.6,651.8,3],[771.5,651.3,3],[773.4,651.2,5],[776,651.3,5],[778.2,651.4,5],[790,651.1,4],[791.6,651.2,6],[793.1,651.3,5],[795.2,651,5],[799,651.2,2],[774,650.6,2],[776.9,650.5,6],[778.1,650.3,5],[790,650.7,6],[791.3,650.4,5],[795.2,650.6,4],[798.4,650.7,3],[772.5,649.8,3],[775.5,649.7,4],[777.6,649.6,6],[790.8,649.8,5],[792.5,649.6,6],[794.8,650.2,4],[798.6,649.4,4],[775.6,649.1,4],[777.4,649,6],[778.6,648.6,5],[790.7,649.2,6],[793.3,649.5,7],[795.4,649.3,4],[774.3,648.5,5],[776.2,648.5,4],[777.9,648.2,6],[790.2,648.5,5],[792.1,648.5,6],[794.1,648.8,3],[796.1,648.6,4],[798.6,648.5,3],[774.9,648,2],[776.8,647.8,3],[778.5,647.6,6],[791.2,647.9,6],[793.4,647.9,5],[795.8,647.4,4],[797.8,647.5,4],[799,647.1,4],[778.6,647.1,5],[780,647.2,5],[781.3,647,6],[791.2,647.2,7],[793.5,647,6],[774.3,647,4],[775.2,646.5,3],[777.4,646.4,5],[779.8,646.5,5],[781,646.6,6],[782.9,646.3,6],[784.5,646.2,6],[786.2,646.1,5],[788.5,646.6,4],[790.9,646.5,6],[792.8,646.2,3],[775.7,645.9,3],[778.9,645.9,4],[781.4,645.6,6],[783.7,645.5,6],[785.5,645.7,6],[787.2,645.8,6],[790.9,645.7,6],[792.8,645.7,5],[778.7,645.3,2],[780.3,645.2,3],[783.1,645,5],[785.2,644.9,6],[786.2,644.8,6],[787.6,644.9,5],[782,644.7,3],[783.5,644.4,4],[784,644,3],[785.4,644.3,6],[786,643.7,4]];
const moreBD = [[779.2,655,5],[780,655.1,6],[781.2,655,6],[782.6,654.9,6],[784,654.9,6],[785,654.8,6],[786,654.9,6],[787.1,654.8,6],[788,654.7,6],[788.9,654.6,5],[777,654.4,6],[778.3,654.3,6],[779.6,654.3,6],[780.9,654.1,5],[781.7,654,6],[788.7,654.1,6],[789.1,653.6,6],[790.1,653.9,5],[776.6,653.5,6],[777.3,653.7,6],[778.9,653.4,5],[775.7,653.6,5],[777.8,653.2,6],[775.8,652.7,5],[776.9,652.6,6],[789.8,653,5],[790.2,652.5,6],[791.1,652.6,5],[775.1,651.8,5],[776.8,651.7,5],[777.5,651.9,6],[790.7,651.9,6],[790.3,651.5,6],[775,651,5],[777.1,650.9,5],[774.8,650.2,4],[776.3,650,6],[777,649.9,6],[778.6,650,6],[790.5,650.9,5],[791.9,650.7,5],[790.2,650,6],[791.9,649.9,6],[793,649.2,5],[776.5,649.2,6],[778.4,649.2,6],[779.3,648.9,5],[790.4,649.4,6],[791.8,649,6],[776.8,648.7,6],[779.1,648,6],[780,647.7,5],[790.7,648.7,6],[792.7,648.9,6],[789.8,648,6],[790.9,647.8,6],[792.3,647.4,6],[789.5,647.5,5],[779.2,647.3,5],[780.7,646.9,6],[782.1,646.7,6],[783.1,646.7,6],[789.6,646.9,6],[790.6,646.9,6],[792.1,646.8,6],[784,646.4,6],[785,646.5,6],[786.9,646.4,6],[787.8,646.2,5],[789,646.1,6],[790.2,646,6],[791.5,646.1,6],[780.2,646.2,5],[782,646,5],[783,645.9,6],[784.6,645.9,6],[786.3,645.5,6],[788.3,645.7,5],[789.7,645.5,5],[782.6,645.4,5],[784.4,645.3,6],[786.9,645.2,6],[788.9,645,4],[784.7,644.6,5],[785.7,644.4,6],[775.9,655.1,4],[773.6,654.5,3],[773.6,649.4,4],[774.4,649.1,5],[771.8,647.8,3],[789.9,655.7,3],[792.9,653.7,2],[794.8,653.4,3]];
const pointsCD = [[1460.7,657.4,4],[1460.1,657,2],[1459.5,656.5,1],[1464,657.3,1],[1460.5,656.9,1],[1462,656.3,4],[1464,656,5],[1461.4,655.4,6],[1463.8,655.8,4],[1460.1,655.9,5],[1465.8,655.5,4],[1467.1,655.4,5],[1468.4,655.3,3],[1470,654.5,5],[1471.1,655.3,5],[1473,655.9,5],[1473.6,656.2,5],[1474.7,655.9,4],[1475.7,656,4],[1476.8,655.9,2],[1479.4,655.8,3],[1459,654.9,4],[1461.3,654.7,5],[1463,654.9,5],[1465,654.9,5],[1466,654.4,5],[1467.2,654.5,5],[1468.7,654.7,4],[1469.9,654.8,5],[1471.9,655,3],[1473.8,655.2,5],[1475.7,655.1,5],[1476.5,654.8,5],[1477.5,654.7,5],[1478.5,654.5,3],[1482,654.4,4],[1456,654.7,6],[1460.6,654.2,5],[1461.8,654.4,6],[1463,654,5],[1464.8,654.5,7],[1476.3,654.1,5],[1477.7,654.2,5],[1479.5,654.5,3],[1461.4,653.6,5],[1462.3,653.3,6],[1464,653.4,6],[1465.1,653.5,6],[1466.3,653.9,4],[1476.6,653.2,6],[1477.5,653.1,6],[1479,653.4,5],[1480.8,653.4,5],[1483,653.6,1],[1459.2,653.1,5],[1460.5,652.6,5],[1462.1,652.9,5],[1463.3,652.7,5],[1476.6,652.3,6],[1478,652.5,5],[1479.7,652.8,4],[1483,652.7,4],[1460.2,652.2,5],[1461.3,651.9,5],[1462.6,652.3,5],[1478.8,652.1,4],[1480,651.9,5],[1481.2,651.6,5],[1458.6,651.5,4],[1460,651.4,5],[1461.1,651.1,4],[1478.5,651,5],[1480,651.3,5],[1481.9,651,4],[1458.9,650.9,5],[1460.3,650.8,5],[1478.1,650.5,6],[1480.3,650.3,5],[1482,650.3,5],[1484.5,650.6,2],[1459.5,650.3,5],[1460.9,650,5],[1462,649.9,6],[1478.3,649.8,5],[1480.4,649.8,6],[1481.4,649.5,6],[1458,649.5,3],[1460.3,649.6,5],[1461.8,649.5,6],[1463,649.3,6],[1478.2,649.2,6],[1479.9,649.2,5],[1482.1,649,3],[1483.3,648.9,6],[1456.5,649,5],[1459.4,648.9,6],[1461.6,648.7,5],[1463.3,648.6,6],[1477.3,648.5,5],[1478.6,648.4,5],[1482.3,648.2,5],[1484,648.6,7],[1457.6,648.2,3],[1459.8,648,6],[1461.2,647.9,5],[1463.6,647.8,6],[1477.8,647.5,5],[1479.8,647.7,5],[1482.6,647.6,4],[1484.1,647.4,3],[1459.5,647.3,4],[1461.4,647.2,5],[1463.2,646.9,5],[1475.4,646.9,5],[1476.9,646.7,6],[1479.1,646.7,4],[1483.7,646.3,6],[1461.3,646.3,4],[1463.4,645.9,5],[1465.7,645.6,6],[1467.3,645.5,5],[1469.1,645.6,5],[1471,645.3,5],[1473,645.5,6],[1474.6,645.4,6],[1476.4,645.6,4],[1478.6,645.5,3],[1463,645.2,3],[1465,644.9,4],[1466.7,644.9,5],[1469.1,644.8,6],[1471.6,644.9,6],[1473.3,644.7,5],[1475,645,5],[1462.1,644.3,3],[1465.4,644.4,4],[1467.5,644.5,5],[1469.7,644.5,5],[1471.5,644.2,5],[1474.3,644.1,3],[1461,643.9,2],[1468.2,643.9,3],[1470.7,643.9,4],[1471.9,643.9,6]];
const moreCD = [[1462.8,655.4,5],[1464.6,655.5,5],[1466.6,655,5],[1468,654.9,4],[1470.6,654.6,6],[1472,654.7,6],[1473.2,654.8,6],[1474.6,654.9,6],[1475.6,654.5,6],[1464.2,654.3,6],[1465.5,654.1,6],[1466.9,654,5],[1473.2,654.2,5],[1474.5,654.2,6],[1475.4,653.9,6],[1462.9,653.9,6],[1464.6,653.8,6],[1465.9,653.3,6],[1475.8,653.5,6],[1476.5,653.6,6],[1477.6,653.6,6],[1461.7,652.9,5],[1462.8,652.7,6],[1464,652.7,6],[1477,652.9,6],[1477.9,652.8,6],[1478.2,652.2,6],[1461.2,652.5,5],[1462.2,652,5],[1463.5,652.2,4],[1479.1,652.6,5],[1479.1,651.4,6],[1478.9,650.9,6],[1479.5,651.9,4],[1459.3,651.9,5],[1460.6,651.9,5],[1461.7,651.7,4],[1460.7,651.4,6],[1461.9,651.2,5],[1459.9,650.6,5],[1461.2,650.3,6],[1462,650.8,5],[1479.1,650.2,6],[1479.3,649.7,5],[1478.9,649,6],[1480.6,649.1,5],[1460.9,649.5,6],[1462.8,649.8,5],[1462.4,649.3,6],[1461.1,649,6],[1462.3,648.9,6],[1464,648.7,6],[1477.4,649,5],[1476.7,648.3,6],[1476.1,647.8,6],[1477.2,647.6,6],[1462.5,648.4,6],[1463.9,648.2,6],[1464.3,647.8,6],[1462.4,647.7,6],[1464.3,647.2,5],[1475.4,647.6,6],[1476.2,647.2,6],[1474.3,646.6,5],[1475.6,646.4,5],[1476.6,646.2,5],[1465,646.3,4],[1464.6,645.9,5],[1466.4,645.7,6],[1468.1,645.8,6],[1470,645.5,6],[1471.9,645.6,5],[1473.8,645.6,5],[1475.6,645.8,6],[1463.9,645.5,5],[1466.2,645.3,5],[1468.3,645.3,6],[1470.5,645.2,6],[1472.4,645.2,5],[1474.1,645.2,6],[1477,645.1,4],[1469.9,644.7,5],[1471,644.5,6],[1472.6,644.6,5],[1481.4,647.1,4],[1480.6,648.1,3],[1483,650.7,4],[1459,654.1,3],[1458.2,653.3,4],[1465.8,656,2]];

// geometry of the matplotlib grid
const size = 801;
const colX = [400.6, 1240.6, 2080.6, 2920.6];
const rowY = [159.5, 999.5, 1839.5, 2679.5];

const svg = d3.select('#chart');
const grey = d3.scaleLinear().domain([0, 100]).range(['#ffffff', '#000000']);

function tickLabelHalf(s) {
  return (s.length * 34.3 + 39.4) / 2.83;
}

function drawAxes(g, x, y, col, row) {
  // bottom ticks, labels only on the last row
  const ax = g.append('g').attr('transform', `translate(0,${size})`)
    .call(d3.axisBottom(x).tickValues(ticks[col]).tickSize(19).tickSizeOuter(0).tickFormat(d => row === 3 ? String(d) : ''));
  ax.selectAll('text').attr('y', 0).attr('dy', '0.365em').attr('font-size', 54)
    .attr('text-anchor', 'middle')
    .attr('transform', d => `translate(0,${43 + tickLabelHalf(String(d))}) rotate(-45)`);
  if (y) {
    const ay = g.append('g')
      .call(d3.axisLeft(y).tickValues(ticks[row]).tickSize(19).tickSizeOuter(0).tickFormat(d => col === 0 ? String(d) : ''));
    ay.selectAll('text').attr('x', 0).attr('dy', '0.365em').attr('font-size', 54)
      .attr('text-anchor', 'middle')
      .attr('transform', d => {
        const h = tickLabelHalf(String(d));
        return `translate(${-53.6 - h},${h - 11}) rotate(-45)`;
      });
    ay.select('.domain').remove();
    ay.selectAll('line').attr('stroke', '#000').attr('stroke-width', 4.4);
  }
  ax.select('.domain').remove();
  ax.selectAll('line').attr('stroke', '#000').attr('stroke-width', 4.4);
  g.append('rect').attr('width', size).attr('height', size)
    .attr('fill', 'none').attr('stroke', '#000').attr('stroke-width', 4.4);
}

function drawTitle(g, i) {
  const t = g.append('g');
  const main = t.append('text').attr('y', -34.5).attr('font-size', 66.7);
  main.append('tspan').attr('x', i === 3 ? 29 : 32).text(params[i]);
  main.append('tspan').attr('x', 119.5).text('=');
  main.append('tspan').attr('x', 196.5).text(medians[i]);
  main.append('tspan').attr('x', 302).attr('font-style', 'italic').text('e');
  main.append('tspan').attr('x', 356).text('+');
  main.append('tspan').attr('x', 425).text(exponents[i]);
  [['+', plusErr[i], -60], ['\u2212', minusErr[i], -16.5]].forEach(r => {
    const s = t.append('text').attr('y', r[2]).attr('font-size', 46.7);
    s.append('tspan').attr('x', 511).text(r[0] + r[1]);
    s.append('tspan').attr('x', 624).attr('font-style', 'italic').text('e');
    s.append('tspan').attr('x', 660).text('+');
    s.append('tspan').attr('x', 710).text('00');
  });
}

function drawHist(i, counts) {
  const g = svg.append('g').attr('transform', `translate(${colX[i]},${rowY[i]})`);
  const x = d3.scaleLinear().domain(limits[i]).range([0, size]);
  const y = d3.scaleLinear().domain([0, 1092]).range([size, 0]);
  const bin = d3.scaleLinear().domain([0, 20]).range(limits[i]);
  const line = d3.line().x(d => x(bin(d[0]))).y(d => y(d[1]));
  const steps = counts.flatMap((c, k) => [[k, c], [k + 1, c]]);
  g.append('path').attr('d', line(steps)).attr('fill', 'none')
    .attr('stroke', '#000').attr('stroke-width', 6);
  g.append('line').attr('x1', x(truths[i])).attr('x2', x(truths[i])).attr('y1', 0).attr('y2', size)
    .attr('stroke', 'green').attr('stroke-width', 9.5);
  drawAxes(g, x, null, i, i);
  drawTitle(g, i);
}

function drawPair(col, row, dens, contours, points) {
  const g = svg.append('g').attr('transform', `translate(${colX[col]},${rowY[row]})`);
  const x = d3.scaleLinear().domain(limits[col]).range([0, size]);
  const y = d3.scaleLinear().domain(limits[row]).range([size, 0]);
  const binX = d3.scaleLinear().domain([0, 20]).range(limits[col]);
  const binY = d3.scaleLinear().domain([0, 20]).range([limits[row][1], limits[row][0]]);
  const line = d3.line().x(d => x(binX(d[0]))).y(d => y(binY(d[1]))).curve(d3.curveLinearClosed);

  const id = `p${col}${row}`;
  const defs = g.append('defs');
  defs.append('clipPath').attr('id', id + 'box').append('rect').attr('width', size).attr('height', size);
  defs.append('clipPath').attr('id', id + 'outer').append('path').attr('d', line(contours[0]));

  const inner = g.append('g').attr('clip-path', `url(#${id}box)`);
  inner.selectAll('circle').data(points).join('circle')
    .attr('cx', d => x(d[0])).attr('cy', d => y(d[1])).attr('r', 7.5)
    .attr('fill', '#000').attr('fill-opacity', d => 1 - Math.pow(0.85, d[2]));

  inner.append('path').attr('d', line(contours[0])).attr('fill', '#fff');

  const cells = dens.flatMap(r => r.slice(2).map((v, k) => ({ row: r[0], col: r[1] + k, v })));
  inner.append('g').attr('clip-path', `url(#${id}outer)`)
    .selectAll('rect').data(cells).join('rect')
    .attr('x', d => x(binX(d.col))).attr('y', d => y(binY(d.row)))
    .attr('width', d => x(binX(d.col + 1)) - x(binX(d.col)) + 0.5)
    .attr('height', d => y(binY(d.row + 1)) - y(binY(d.row)) + 0.5)
    .attr('fill', d => grey(d.v));

  inner.selectAll('path.contour').data(contours).join('path').attr('class', 'contour')
    .attr('d', line).attr('fill', 'none').attr('stroke', '#000')
    .attr('stroke-width', 10.5).attr('stroke-linejoin', 'round');

  // true value marker and cross lines
  inner.append('rect').attr('x', x(truths[col]) - 20).attr('y', y(truths[row]) - 20)
    .attr('width', 40).attr('height', 40).attr('fill', 'steelblue');
  inner.append('line').attr('x1', x(truths[col])).attr('x2', x(truths[col])).attr('y1', 0).attr('y2', size)
    .attr('stroke', 'green').attr('stroke-width', 9.5);
  inner.append('line').attr('y1', y(truths[row])).attr('y2', y(truths[row])).attr('x1', 0).attr('x2', size)
    .attr('stroke', 'green').attr('stroke-width', 9.5);

  drawAxes(g, x, y, col, row);
}

drawHist(0, histA);
drawHist(1, histB);
drawHist(2, histC);
drawHist(3, histD);
drawPair(0, 1, densAB, contoursAB, pointsAB.concat(moreAB));
drawPair(0, 2, densAC, contoursAC, pointsAC.concat(moreAC));
drawPair(1, 2, densBC, contoursBC, pointsBC.concat(moreBC));
drawPair(0, 3, densAD, contoursAD, pointsAD.concat(moreAD));
drawPair(1, 3, densBD, contoursBD, pointsBD.concat(moreBD));
drawPair(2, 3, densCD, contoursCD, pointsCD.concat(moreCD));

// axis names
[1, 2, 3].forEach(r => {
  svg.append('text').attr('font-size', 166.7).attr('text-anchor', 'middle')
    .attr('transform', `translate(131,${rowY[r] + size / 2}) rotate(-90)`).text(params[r]);
});
params.forEach((p, c) => {
  svg.append('text').attr('font-size', 166.7).attr('text-anchor', 'middle')
    .attr('x', colX[c] + size / 2).attr('y', 3847).text(p);
});
</script>
</body>
</html>
